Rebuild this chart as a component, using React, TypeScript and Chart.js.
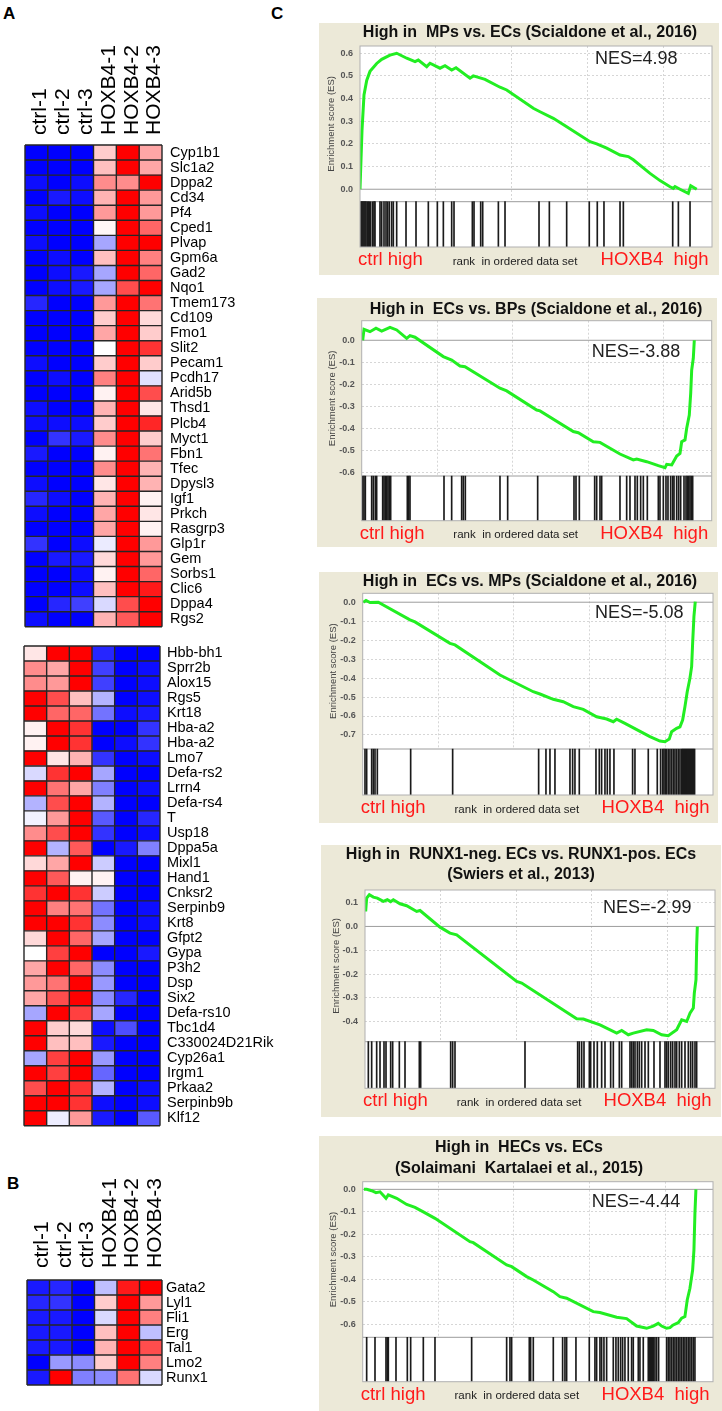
import React, { useEffect, useRef } from 'react';
import { Chart, registerables } from 'chart.js';

Chart.register(...registerables);

const FONT = "Arial, 'Liberation Sans', Helvetica, sans-serif";
const BEIGE = '#ECE9D8';
const GREEN = '#22EE22';
const GRID_HM = '#262626';

// ---------------- Heatmap data ----------------
const samples = ['ctrl-1', 'ctrl-2', 'ctrl-3', 'HOXB4-1', 'HOXB4-2', 'HOXB4-3'];

const genesA1 = ['Cyp1b1', 'Slc1a2', 'Dppa2', 'Cd34', 'Pf4', 'Cped1', 'Plvap', 'Gpm6a', 'Gad2', 'Nqo1', 'Tmem173', 'Cd109', 'Fmo1', 'Slit2', 'Pecam1', 'Pcdh17', 'Arid5b', 'Thsd1', 'Plcb4', 'Myct1', 'Fbn1', 'Tfec', 'Dpysl3', 'Igf1', 'Prkch', 'Rasgrp3', 'Glp1r', 'Gem', 'Sorbs1', 'Clic6', 'Dppa4', 'Rgs2'];
const valuesA1 = [
  [-1, -1, -1, 0.2, 1, 0.35],
  [-1, -1, -1, 0.25, 1, 0.35],
  [-0.95, -1, -0.95, 0.45, 0.45, 1],
  [-1, -0.9, -0.95, 0.3, 1, 0.4],
  [-0.95, -1, -1, 0.4, 1, 0.4],
  [-1, -1, -1, 0.03, 1, 0.6],
  [-0.95, -1, -1, -0.35, 1, 1],
  [-1, -0.95, -1, 0.25, 1, 0.5],
  [-1, -0.95, -0.9, -0.35, 1, 0.6],
  [-1, -0.95, -0.9, -0.35, 0.7, 1],
  [-0.85, -1, -1, 0.4, 1, 0.55],
  [-1, -1, -1, 0.2, 1, 0.15],
  [-1, -1, -1, 0.35, 1, 0.2],
  [-1, -1, -1, 0, 1, 0.8],
  [-0.95, -1, -1, 0.2, 1, 0.2],
  [-1, -0.95, -1, 0.5, 1, -0.12],
  [-1, -1, -1, 0.05, 1, 0.7],
  [-0.95, -1, -1, 0.3, 1, 0.1],
  [-0.95, -0.95, -0.95, 0.2, 1, 0.85],
  [-1, -0.8, -0.9, 0.45, 1, 0.2],
  [-0.9, -1, -1, 0.05, 1, 0.55],
  [-1, -1, -1, 0.45, 1, 0.3],
  [-0.95, -1, -1, 0.1, 1, 0.3],
  [-0.85, -0.95, -1, 0.3, 1, 0.05],
  [-0.95, -1, -1, 0.35, 1, 0.1],
  [-1, -1, -1, 0.35, 1, 0.05],
  [-0.8, -1, -0.95, -0.08, 1, 0.4],
  [-1, -0.9, -0.9, 0.15, 1, 0.4],
  [-1, -1, -0.95, 0.05, 1, 0.6],
  [-1, -1, -0.95, 0.25, 1, 0.9],
  [-1, -0.85, -0.75, -0.15, 0.7, 1],
  [-0.95, -1, -1, 0.3, 0.65, 1],
];

const genesA2 = ['Hbb-bh1', 'Sprr2b', 'Alox15', 'Rgs5', 'Krt18', 'Hba-a2', 'Hba-a2', 'Lmo7', 'Defa-rs2', 'Lrrn4', 'Defa-rs4', 'T', 'Usp18', 'Dppa5a', 'Mixl1', 'Hand1', 'Cnksr2', 'Serpinb9', 'Krt8', 'Gfpt2', 'Gypa', 'P3h2', 'Dsp', 'Six2', 'Defa-rs10', 'Tbc1d4', 'C330024D21Rik', 'Cyp26a1', 'Irgm1', 'Prkaa2', 'Serpinb9b', 'Klf12'];
const valuesA2 = [
  [0.1, 1, 1, -0.85, -1, -1],
  [0.45, 0.35, 1, -0.75, -1, -0.95],
  [0.45, 0.4, 1, -0.75, -1, -0.95],
  [1, 0.7, 0.25, -0.3, -1, -0.95],
  [1, 0.6, 0.6, -0.55, -0.95, -0.9],
  [0.05, 1, 0.8, -1, -1, -0.8],
  [0.05, 1, 0.8, -1, -0.95, -0.8],
  [1, 0.1, 0.3, -0.8, -1, -0.95],
  [-0.15, 0.8, 1, -0.35, -1, -1],
  [1, 0.55, 0.35, -0.5, -1, -0.95],
  [-0.3, 0.7, 1, -0.3, -1, -1],
  [-0.05, 0.4, 1, -0.65, -1, -0.85],
  [0.45, 0.7, 1, -0.8, -1, -0.95],
  [1, -0.3, 0.65, -1, -0.9, -0.5],
  [0.15, 0.35, 1, -0.2, -1, -1],
  [1, 0.65, 0.05, 0.05, -1, -1],
  [0.8, 1, 0.8, -0.2, -1, -1],
  [1, 0.5, 0.55, -0.55, -1, -0.95],
  [1, 1, 0.8, -0.45, -1, -0.95],
  [0.15, 1, 0.6, -0.35, -1, -1],
  [0, 0.75, 1, -1, -1, -0.9],
  [0.35, 1, 0.6, -0.45, -1, -1],
  [0.4, 0.55, 1, -0.4, -1, -1],
  [0.35, 0.7, 1, -0.45, -0.85, -1],
  [-0.35, 1, 0.75, -0.35, -1, -1],
  [1, 0.2, 0.15, -0.95, -0.7, -1],
  [1, 0.25, 0.25, -0.9, -1, -1],
  [-0.35, 0.75, 1, -0.4, -1, -1],
  [1, 0.75, 1, -0.6, -1, -1],
  [0.7, 1, 0.8, -0.3, -1, -0.95],
  [1, 1, 0.8, -0.95, -1, -0.95],
  [1, -0.07, 0.4, -0.9, -1, -0.65],
];

const genesB = ['Gata2', 'Lyl1', 'Fli1', 'Erg', 'Tal1', 'Lmo2', 'Runx1'];
const valuesB = [
  [-0.9, -0.85, -1, -0.25, 0.9, 1],
  [-0.85, -0.8, -1, 0.2, 1, 0.4],
  [-0.9, -0.9, -1, -0.15, 1, 0.5],
  [-0.9, -0.9, -1, 0.25, 1, -0.25],
  [-0.9, -0.9, -1, 0.3, 1, 0.7],
  [-1, -0.4, -0.45, 0.2, 1, 0.5],
  [-0.9, 1, -0.5, -0.45, 0.55, -0.15],
];

// ---------------- GSEA data ----------------
const rankGrid = [5000, 10000, 15000, 20000];

const p1Rank = [0, 132, 263, 441, 658, 1099, 1428, 1974, 2415, 3073, 3619, 3836, 4389, 4606, 5264, 5593, 6034, 6317, 7238, 7455, 8225, 9212, 9653, 11403, 11844, 12719, 13601, 15134, 15575, 16233, 17108, 17654, 17983, 19082, 19740, 20398, 20615, 20727, 21056, 21602, 21760, 22155];
const p1ES = [0, 0.26, 0.416, 0.48, 0.52, 0.555, 0.573, 0.592, 0.6, 0.578, 0.563, 0.57, 0.541, 0.556, 0.534, 0.545, 0.526, 0.536, 0.49, 0.5, 0.485, 0.45, 0.438, 0.357, 0.342, 0.313, 0.276, 0.21, 0.2, 0.181, 0.151, 0.144, 0.13, 0.07, 0.038, 0.011, 0.004, 0.012, 0, -0.018, 0.015, 0];
const p1Hits = [66, 132, 197, 263, 329, 395, 482, 548, 614, 702, 833, 921, 987, 1316, 1426, 1579, 1711, 1820, 1930, 2084, 2193, 2413, 3027, 3685, 4496, 5089, 5484, 6032, 6185, 7392, 7502, 7941, 8073, 9104, 9541, 11778, 12458, 13598, 15085, 15612, 16052, 17108, 17327, 20574, 20947, 21714];
const p1Ticks = [0.6, 0.5, 0.4, 0.3, 0.2, 0.1, 0.0];

const p2Rank = [66, 152, 549, 946, 1323, 1873, 2316, 2978, 3196, 3527, 5400, 5955, 6505, 6835, 9151, 9594, 11580, 11798, 14002, 14333, 15325, 15768, 17091, 17973, 18196, 18858, 19627, 20070, 20182, 20513, 20844, 21062, 21174, 21393, 21505, 21677, 21770, 21836, 21942, 22008];
const p2ES = [0, 0.05, 0.039, 0.055, 0.042, 0.059, 0.047, 0.009, 0.021, 0.014, -0.074, -0.09, -0.117, -0.12, -0.218, -0.23, -0.317, -0.321, -0.415, -0.42, -0.461, -0.464, -0.517, -0.544, -0.54, -0.552, -0.57, -0.579, -0.564, -0.567, -0.526, -0.514, -0.461, -0.453, -0.4, -0.34, -0.241, -0.135, -0.082, 0];
const p2Hits = [64, 152, 240, 660, 770, 902, 990, 1388, 1476, 1564, 1652, 1740, 1828, 1917, 3019, 3108, 3196, 5446, 5953, 6615, 6725, 6857, 9151, 9659, 11644, 14048, 14180, 14401, 15416, 15548, 15768, 15879, 17091, 17533, 17753, 18084, 18238, 18459, 18636, 18900, 19628, 19738, 19959, 20135, 20267, 20444, 20576, 20665, 20841, 20974, 21106, 21327, 21460, 21548, 21636, 21724, 21813, 21901];
const p2Ticks = [0.0, -0.1, -0.2, -0.3, -0.4, -0.5, -0.6];

const p3Rank = [40, 218, 483, 1031, 3127, 3457, 5771, 6101, 9075, 11277, 11720, 12600, 13260, 13921, 14582, 15467, 16128, 16568, 16788, 17338, 18990, 19652, 19982, 20267, 20424, 20755, 20975, 21152, 21304, 21456, 21635, 21747, 21813, 21899, 21987];
const p3ES = [0, 0.009, -0.002, 0, -0.093, -0.104, -0.217, -0.225, -0.384, -0.472, -0.484, -0.512, -0.525, -0.551, -0.565, -0.604, -0.616, -0.63, -0.617, -0.639, -0.709, -0.732, -0.736, -0.722, -0.683, -0.665, -0.657, -0.621, -0.551, -0.472, -0.401, -0.34, -0.217, -0.076, 0.003];
const p3Hits = [152, 262, 593, 703, 813, 967, 3171, 5947, 11632, 12116, 12381, 12711, 13703, 13879, 14033, 14320, 15422, 15642, 15796, 16017, 16171, 16347, 16611, 17845, 18000, 18881, 19476, 19696, 19828, 19917, 20005, 20093, 20203, 20313, 20424, 20534, 20644, 20754, 20865, 20975, 21085, 21150, 21217, 21283, 21349, 21415, 21481, 21547, 21613, 21679, 21745, 21811, 21877, 21943];
const p3Ticks = [0.0, -0.1, -0.2, -0.3, -0.4, -0.5, -0.6, -0.7];

const p4Rank = [44, 110, 287, 551, 816, 1213, 1477, 1698, 1874, 2316, 2757, 3419, 3640, 4963, 5624, 6066, 10038, 10369, 14008, 14449, 15550, 16655, 16986, 17423, 17753, 18640, 19077, 19630, 20069, 20625, 20956, 21287, 21505, 21725, 21791, 21902, 21946, 21990];
const p4ES = [0.063, 0.119, 0.133, 0.123, 0.119, 0.105, 0.112, 0.104, 0.112, 0.095, 0.087, 0.063, 0.067, -0.003, -0.028, -0.035, -0.231, -0.238, -0.388, -0.389, -0.413, -0.448, -0.437, -0.455, -0.448, -0.434, -0.437, -0.455, -0.459, -0.434, -0.392, -0.399, -0.364, -0.343, -0.28, -0.224, -0.084, 0];
const p4Hits = [221, 441, 772, 993, 1257, 1390, 1699, 1831, 2272, 2647, 3595, 3684, 5669, 5801, 5955, 10587, 14072, 14182, 14337, 14491, 14844, 14932, 15153, 15373, 15660, 15881, 16256, 16432, 16829, 16983, 17535, 17645, 17755, 17866, 18020, 18152, 18307, 18528, 18748, 19123, 19520, 19851, 19961, 20072, 20226, 20358, 20513, 20623, 20799, 20954, 21174, 21395, 21549, 21681, 21836, 21946];
const p4Ticks = [0.1, 0.0, -0.1, -0.2, -0.3, -0.4];

const p5Rank = [86, 264, 595, 879, 1143, 1540, 1692, 2247, 2908, 3457, 4006, 4779, 7092, 7311, 9518, 9849, 10840, 11277, 12600, 13041, 13484, 15243, 15683, 16789, 17450, 18111, 18772, 19208, 19539, 19764, 20094, 20313, 20531, 20862, 21086, 21304, 21456, 21635, 21813, 21899, 21965, 22031];
const p5ES = [0, 0, -0.006, -0.015, -0.011, -0.04, -0.025, -0.04, -0.067, -0.08, -0.1, -0.129, -0.233, -0.237, -0.336, -0.344, -0.388, -0.403, -0.455, -0.477, -0.484, -0.544, -0.548, -0.569, -0.575, -0.608, -0.618, -0.608, -0.596, -0.608, -0.618, -0.615, -0.603, -0.593, -0.573, -0.566, -0.492, -0.44, -0.359, -0.27, -0.107, 0];
const p5Hits = [262, 813, 1540, 1628, 1694, 2201, 2950, 3171, 4008, 4779, 7203, 9517, 9736, 9847, 11014, 11103, 11279, 12601, 13218, 13372, 13483, 14099, 14980, 15355, 15466, 15686, 15796, 15950, 16127, 16567, 16743, 16897, 17052, 17184, 17338, 17558, 17779, 17889, 18220, 18330, 18550, 18881, 18947, 19013, 19080, 19146, 19212, 19321, 19432, 19564, 20093, 20203, 20313, 20424, 20534, 20644, 20754, 20865, 20975, 21085, 21194, 21304, 21415, 21525, 21635, 21745, 21855, 21965];
const p5Ticks = [0.0, -0.1, -0.2, -0.3, -0.4, -0.5, -0.6];

const RANK_MAX = 23160;

const panels = [
  {
    title: ['High in  MPs vs. ECs (Scialdone et al., 2016)'], nes: 'NES=4.98',
    rank: p1Rank, es: p1ES, hits: p1Hits, ticks: p1Ticks,
    box: { l: 319, t: 23, r: 719, b: 275 }, plot: { l: 360, r: 712, t: 46, esB: 201.7, hitsB: 247 },
    yTop: 0.632, yEsB: -0.055, titleX: 530, titleY: [33], nesX: 595, nesY: 58.7,
  },
  {
    title: ['High in  ECs vs. BPs (Scialdone et al., 2016)'], nes: 'NES=-3.88',
    rank: p2Rank, es: p2ES, hits: p2Hits, ticks: p2Ticks,
    box: { l: 317, t: 298, r: 717, b: 547 }, plot: { l: 361.7, r: 711.7, t: 320.7, esB: 476, hitsB: 520.7 },
    yTop: 0.089, yEsB: -0.617, titleX: 536, titleY: [310], nesX: 591.7, nesY: 352.3,
  },
  {
    title: ['High in  ECs vs. MPs (Scialdone et al., 2016)'], nes: 'NES=-5.08',
    rank: p3Rank, es: p3ES, hits: p3Hits, ticks: p3Ticks,
    box: { l: 319, t: 572, r: 718, b: 823 }, plot: { l: 362.7, r: 713, t: 593.3, esB: 749, hitsB: 795 },
    yTop: 0.047, yEsB: -0.774, titleX: 530, titleY: [582], nesX: 595, nesY: 613.3,
  },
  {
    title: ['High in  RUNX1-neg. ECs vs. RUNX1-pos. ECs', '(Swiers et al., 2013)'], nes: 'NES=-2.99',
    rank: p4Rank, es: p4ES, hits: p4Hits, ticks: p4Ticks,
    box: { l: 321, t: 845, r: 721, b: 1117 }, plot: { l: 365, r: 715, t: 890, esB: 1041.7, hitsB: 1088.3 },
    yTop: 0.153, yEsB: -0.484, titleX: 521, titleY: [855, 875], nesX: 603, nesY: 908.3,
  },
  {
    title: ['High in  HECs vs. ECs', '(Solaimani  Kartalaei et al., 2015)'], nes: 'NES=-4.44',
    rank: p5Rank, es: p5ES, hits: p5Hits, ticks: p5Ticks,
    box: { l: 319, t: 1136, r: 722, b: 1411 }, plot: { l: 362.7, r: 713, t: 1181.7, esB: 1337.3, hitsB: 1381.7 },
    yTop: 0.034, yEsB: -0.658, titleX: 519, titleY: [1147.3, 1168.3], nesX: 591.7, nesY: 1201.7,
  },
];

function cellColor(v: number) {
  if (v >= 0) {
    const c = Math.round(255 * (1 - v));
    return `rgb(255,${c},${c})`;
  }
  const c = Math.round(255 * (1 + v));
  return `rgb(${c},${c},255)`;
}

type Area = { left: number; right: number; top: number; bottom: number };

const cellGridPlugin = {
  id: 'cellGrid',
  afterDatasetsDraw(chart: any) {
    const { ctx, chartArea: a, scales } = chart;
    const x = scales.x;
    const y = scales.y;
    const n = y.getLabels().length;
    ctx.save();
    ctx.strokeStyle = GRID_HM;
    ctx.lineWidth = 1.4;
    ctx.beginPath();
    for (let j = 0; j <= samples.length; j++) {
      const px = x.getPixelForValue(j);
      ctx.moveTo(px, a.top);
      ctx.lineTo(px, a.bottom);
    }
    for (let i = 0; i <= n; i++) {
      const py = y.getPixelForValue(i - 0.5);
      ctx.moveTo(a.left, py);
      ctx.lineTo(a.right, py);
    }
    ctx.stroke();
    ctx.restore();
  },
};

function Heatmap(props: {
  genes: string[]; values: number[][]; showSamples: boolean;
  left: number; top: number; width: number; height: number; area: Area;
  labelPad: number; samplePad: number; sampleOffset: number;
}) {
  const ref = useRef<HTMLCanvasElement>(null);
  const { genes, values, showSamples, left, top, width, height, area, labelPad, samplePad, sampleOffset } = props;
  useEffect(() => {
    const scales: any = {
      x: {
        type: 'linear', position: 'bottom', min: 0, max: samples.length, offset: false,
        ticks: { display: false, stepSize: 1 },
        grid: { display: false, drawTicks: false, offset: false },
        border: { display: false },
        afterFit: (s: any) => { s.height = 0; },
      },
      y: {
        type: 'category', position: 'right', offset: true,
        grid: { display: false, offset: true, drawTicks: false },
        border: { display: false },
        ticks: { autoSkip: false, padding: labelPad, color: '#000', font: { family: FONT, size: 14.5, lineHeight: 1 } },
        afterFit: (s: any) => { s.width = width - area.right; },
      },
    };
    if (showSamples) {
      scales.xTop = {
        type: 'category', axis: 'x', position: 'top', labels: samples, offset: true,
        grid: { display: false, drawTicks: false },
        border: { display: false },
        ticks: {
          autoSkip: false, minRotation: 90, maxRotation: 90, padding: samplePad, labelOffset: sampleOffset,
          color: '#000', font: { family: FONT, size: 21, lineHeight: 1 },
        },
        afterFit: (s: any) => { s.height = area.top; },
      };
    }
    const chart = new Chart(ref.current as HTMLCanvasElement, {
      type: 'bar',
      data: {
        labels: genes,
        datasets: samples.map((s, j) => ({
          label: s,
          data: genes.map(() => [j, j + 1]) as any,
          backgroundColor: values.map((r) => cellColor(r[j])),
          borderWidth: 0,
          grouped: false,
          barPercentage: 1,
          categoryPercentage: 1,
          xAxisID: 'x',
          yAxisID: 'y',
        })),
      },
      options: {
        responsive: false,
        animation: false,
        devicePixelRatio: 1,
        indexAxis: 'y',
        layout: { padding: { left: area.left, right: 0, top: showSamples ? 0 : area.top, bottom: height - area.bottom } },
        plugins: { legend: { display: false }, tooltip: { enabled: false } },
        scales,
      } as any,
      plugins: [cellGridPlugin],
    });
    return () => chart.destroy();
  }, []);
  return <canvas ref={ref} width={width} height={height} style={{ position: 'absolute', left, top, width, height }} />;
}

function Gsea({ p }: { p: any }) {
  const ref = useRef<HTMLCanvasElement>(null);
  const cl = Math.floor(p.box.l);
  const ct = Math.floor(p.box.t);
  const cw = Math.ceil(p.box.r) - cl;
  const ch = Math.ceil(p.box.b) - ct;
  useEffect(() => {
    const pxPerUnit = (p.plot.esB - p.plot.t) / (p.yTop - p.yEsB);
    const yMin = p.yEsB - (p.plot.hitsB - p.plot.esB) / pxPerUnit;
    const plugin = {
      id: 'gseaDeco',
      beforeDraw(chart: any) {
        const { ctx, chartArea: a, width, height } = chart;
        ctx.save();
        ctx.fillStyle = BEIGE;
        ctx.fillRect(0, 0, width, height);
        ctx.fillStyle = '#ffffff';
        ctx.fillRect(a.left, a.top, a.right - a.left, a.bottom - a.top);
        ctx.restore();
      },
      beforeDatasetsDraw(chart: any) {
        const { ctx, chartArea: a, scales } = chart;
        const yb = scales.y.getPixelForValue(p.yEsB);
        const y0 = scales.y.getPixelForValue(0);
        ctx.save();
        ctx.fillStyle = '#ffffff';
        ctx.fillRect(a.left, yb, a.right - a.left, a.bottom - yb);
        ctx.strokeStyle = '#9c9c9c';
        ctx.lineWidth = 1;
        ctx.beginPath();
        ctx.moveTo(a.left, y0);
        ctx.lineTo(a.right, y0);
        ctx.moveTo(a.left, yb);
        ctx.lineTo(a.right, yb);
        ctx.stroke();
        ctx.restore();
      },
      afterDraw(chart: any) {
        const { ctx, chartArea: a, scales } = chart;
        const yb = scales.y.getPixelForValue(p.yEsB);
        ctx.save();
        ctx.strokeStyle = '#b0b0b0';
        ctx.lineWidth = 1;
        ctx.strokeRect(a.left, a.top, a.right - a.left, a.bottom - a.top);
        ctx.fillStyle = '#111';
        ctx.font = `bold 16px ${FONT}`;
        ctx.textAlign = 'center';
        ctx.textBaseline = 'middle';
        p.title.forEach((t: string, i: number) => ctx.fillText(t, p.titleX - cl, p.titleY[i] - ct));
        ctx.font = `18px ${FONT}`;
        ctx.textAlign = 'left';
        ctx.fillStyle = '#222';
        ctx.fillText(p.nes, p.nesX - cl, p.nesY - ct);
        ctx.save();
        ctx.translate(a.left - 29, (a.top + yb) / 2);
        ctx.rotate(-Math.PI / 2);
        ctx.font = `9.5px ${FONT}`;
        ctx.fillStyle = '#444';
        ctx.textAlign = 'center';
        ctx.fillText('Enrichment score (ES)', 0, 0);
        ctx.restore();
        const by = a.bottom + 13;
        ctx.font = `18.5px ${FONT}`;
        ctx.fillStyle = '#ff1a1a';
        ctx.textAlign = 'left';
        ctx.fillText('ctrl high', a.left - 2, by);
        ctx.textAlign = 'right';
        ctx.fillText('HOXB4  high', a.right - 3.5, by);
        ctx.font = `11.5px ${FONT}`;
        ctx.fillStyle = '#222';
        ctx.textAlign = 'center';
        ctx.fillText('rank  in ordered data set', (a.left + a.right) / 2 - 21, by + 1.5);
        ctx.restore();
      },
    };
    const chart = new Chart(ref.current as HTMLCanvasElement, {
      type: 'bar',
      data: {
        datasets: [
          {
            type: 'line',
            data: p.rank.map((x: number, i: number) => ({ x, y: p.es[i] })),
            borderColor: GREEN,
            borderWidth: 3,
            pointRadius: 0,
            fill: false,
            tension: 0,
          } as any,
          {
            type: 'bar',
            data: p.hits.map((x: number) => ({ x, y: [yMin, p.yEsB] })),
            backgroundColor: '#1a1a1a',
            barThickness: 1,
            borderWidth: 0,
          } as any,
        ],
      },
      options: {
        responsive: false,
        animation: false,
        devicePixelRatio: 1,
        layout: {
          padding: {
            left: 0,
            top: p.plot.t - ct,
            right: cl + cw - p.plot.r,
            bottom: ct + ch - p.plot.hitsB,
          },
        },
        plugins: { legend: { display: false }, tooltip: { enabled: false } },
        scales: {
          x: {
            type: 'linear', min: 0, max: RANK_MAX, offset: false,
            afterBuildTicks: (s: any) => { s.ticks = rankGrid.map((v) => ({ value: v })); },
            ticks: { display: false },
            grid: { color: '#d6d6d6', lineWidth: 1, drawTicks: false, offset: false },
            border: { display: false, dash: [2, 2] },
            afterFit: (s: any) => { s.height = 0; },
          },
          y: {
            type: 'linear', min: yMin, max: p.yTop,
            afterBuildTicks: (s: any) => { s.ticks = p.ticks.map((v: number) => ({ value: v })); },
            ticks: {
              padding: 7, color: '#555',
              font: { family: FONT, size: 9, weight: 'bold' },
              callback: (v: any) => Number(v).toFixed(1),
            },
            grid: {
              color: (c: any) => (c.tick && Math.abs(c.tick.value) < 1e-9 ? 'rgba(0,0,0,0)' : '#d6d6d6'),
              lineWidth: 1, drawTicks: false,
            },
            border: { display: false, dash: [2, 2] },
            afterFit: (s: any) => { s.width = p.plot.l - cl; },
          },
        },
      } as any,
      plugins: [plugin],
    });
    return () => chart.destroy();
  }, []);
  return <canvas ref={ref} width={cw} height={ch} style={{ position: 'absolute', left: cl, top: ct, width: cw, height: ch }} />;
}

const letterStyle = (left: number, top: number): React.CSSProperties => ({
  position: 'absolute', left, top, font: `bold 17px ${FONT}`, lineHeight: '17px', color: '#000',
});

export default function App() {
  return (
    <div style={{ position: 'absolute', left: 0, top: 0, width: 722, height: 1411, background: '#fff', overflow: 'hidden' }}>
      <div style={letterStyle(3, 5)}>A</div>
      <div style={letterStyle(7, 1175)}>B</div>
      <div style={letterStyle(271, 5)}>C</div>
      <Heatmap genes={genesA1} values={valuesA1} showSamples left={0} top={0} width={300} height={642}
        area={{ left: 25, right: 162, top: 145, bottom: 630 }} labelPad={8} samplePad={10} sampleOffset={25} />
      <Heatmap genes={genesA2} values={valuesA2} showSamples={false} left={0} top={630} width={300} height={510}
        area={{ left: 24, right: 160, top: 16, bottom: 496 }} labelPad={7} samplePad={0} sampleOffset={0} />
      <Heatmap genes={genesB} values={valuesB} showSamples left={0} top={1150} width={300} height={250}
        area={{ left: 27, right: 162, top: 130, bottom: 235 }} labelPad={4} samplePad={12} sampleOffset={25} />
      {panels.map((p, i) => <Gsea key={i} p={p} />)}
    </div>
  );
}
